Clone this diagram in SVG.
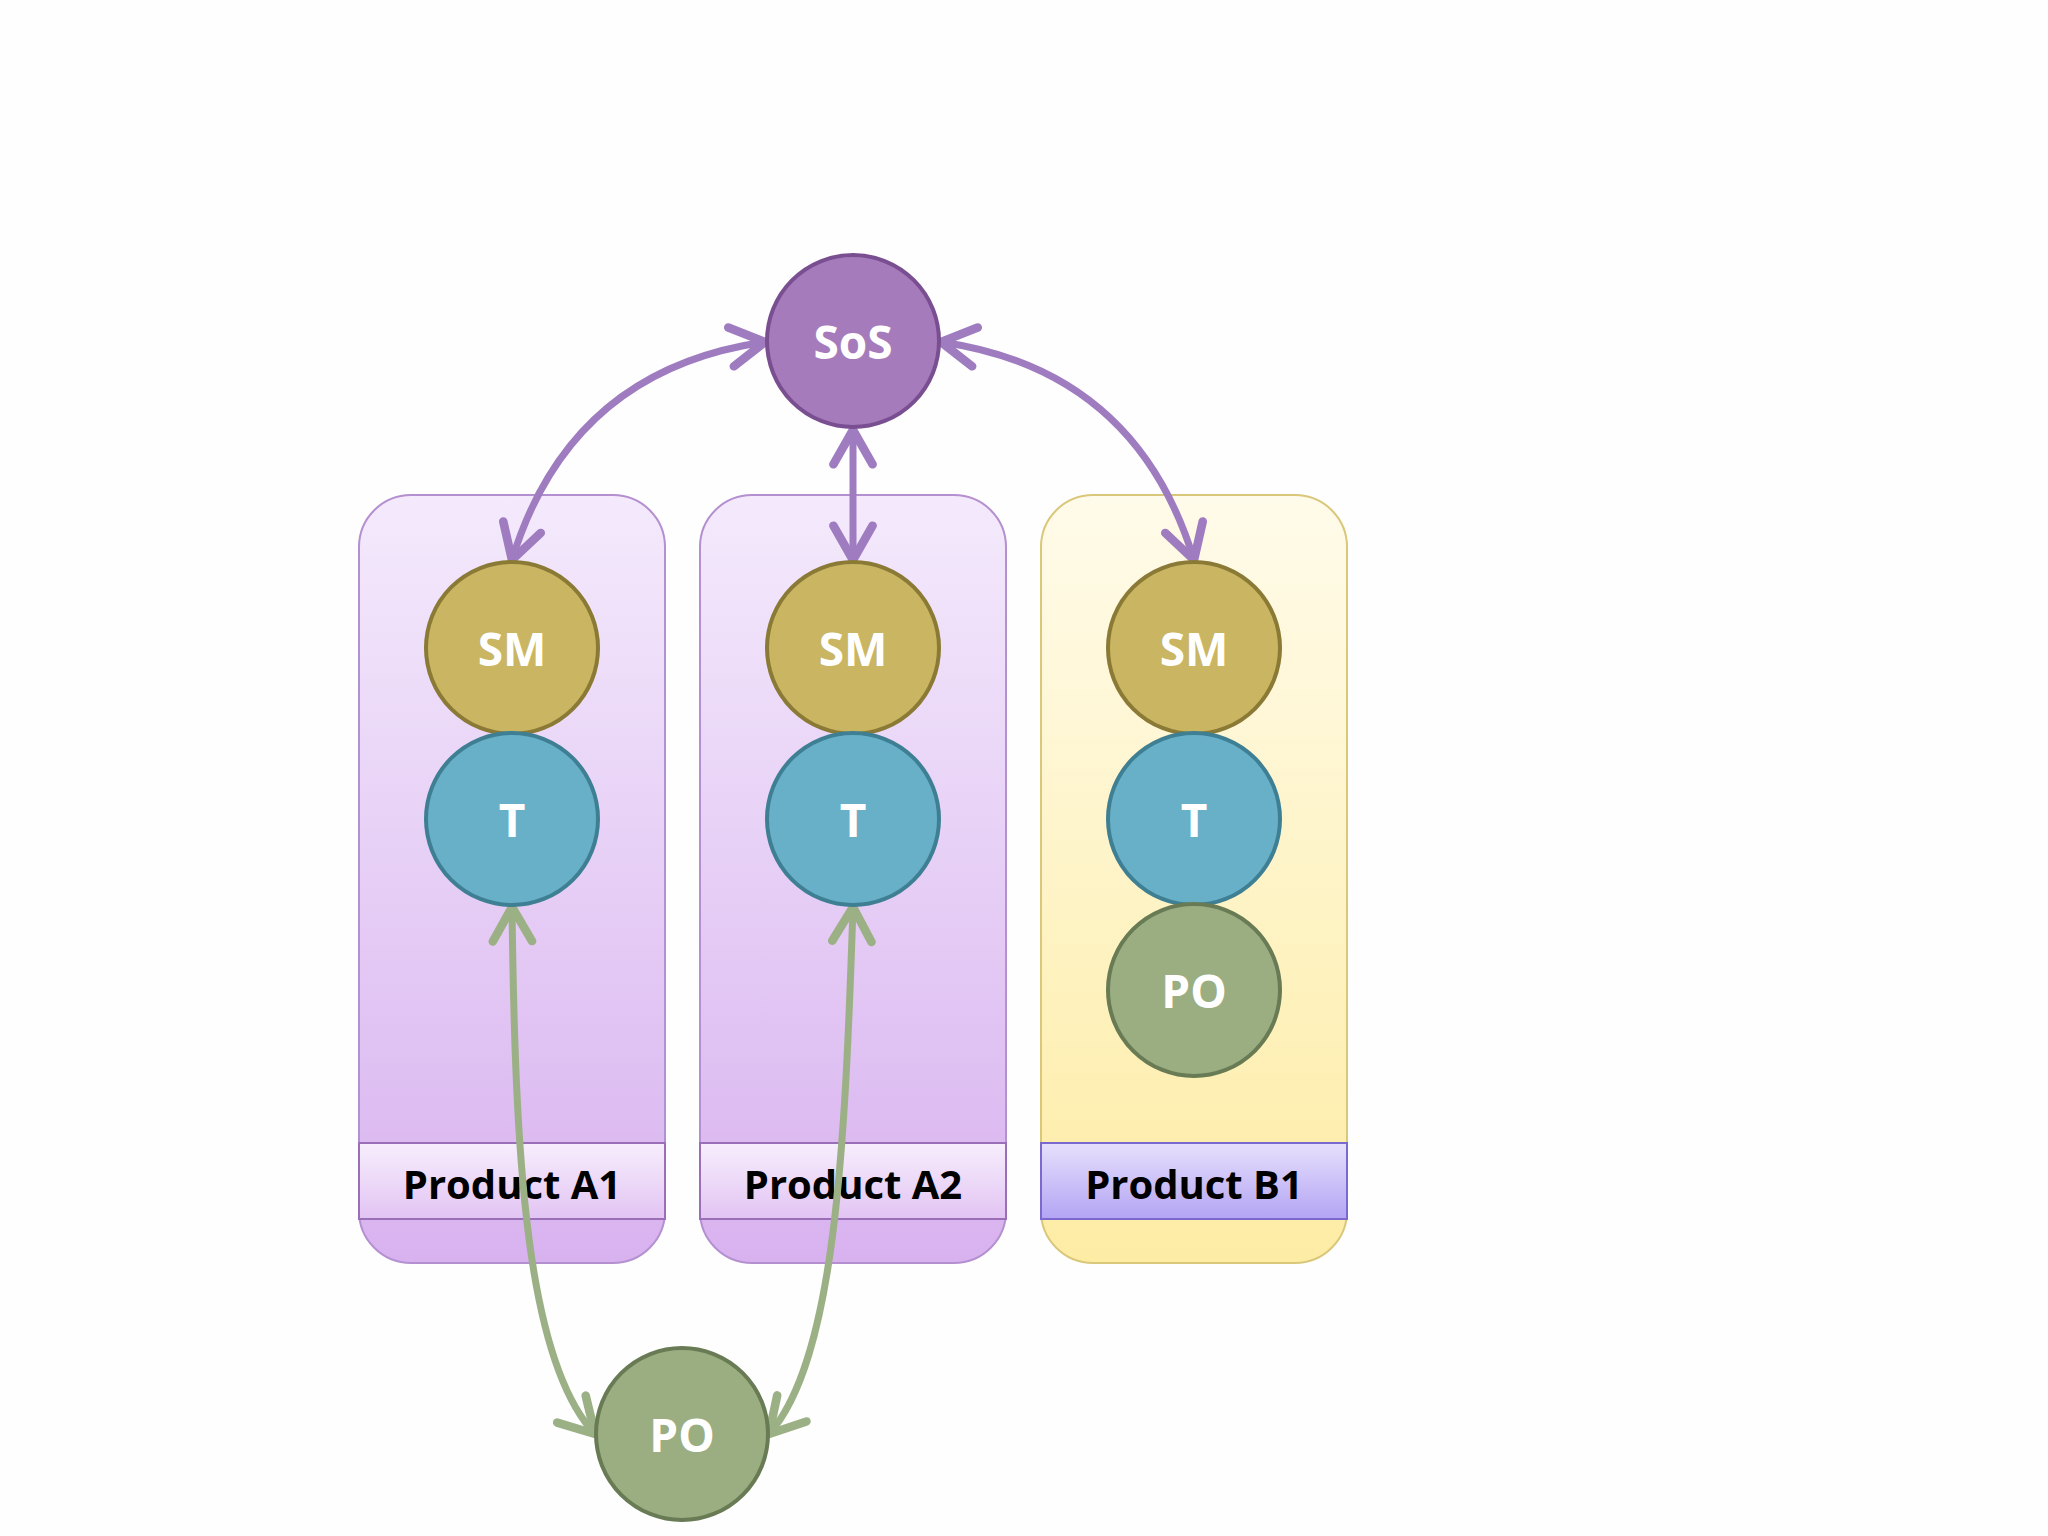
<svg xmlns="http://www.w3.org/2000/svg" width="2048" height="1536" viewBox="0 0 2048 1536">
<defs>
<linearGradient id="gP" x1="0" y1="0" x2="0" y2="1"><stop offset="0" stop-color="#f4eafc"/><stop offset="1" stop-color="#d8b2ef"/></linearGradient>
<linearGradient id="gY" x1="0" y1="0" x2="0" y2="1"><stop offset="0" stop-color="#fffbea"/><stop offset="1" stop-color="#fdeca4"/></linearGradient>
<linearGradient id="gLP" x1="0" y1="0" x2="0" y2="1"><stop offset="0" stop-color="#f7eefd"/><stop offset="1" stop-color="#e2c4f3"/></linearGradient>
<linearGradient id="gLB" x1="0" y1="0" x2="0" y2="1"><stop offset="0" stop-color="#e6e0fc"/><stop offset="1" stop-color="#b4a4f4"/></linearGradient>
<marker id="aP" viewBox="0 0 20 20" refX="17" refY="10" markerWidth="7" markerHeight="7" orient="auto-start-reverse" markerUnits="strokeWidth"><polyline points="3,2 17,10 3,18" fill="none" stroke="#9f7cc0" stroke-width="3.5" stroke-linecap="round" stroke-linejoin="round"/></marker>
<marker id="aG" viewBox="0 0 20 20" refX="17" refY="10" markerWidth="7" markerHeight="7" orient="auto-start-reverse" markerUnits="strokeWidth"><polyline points="3,2 17,10 3,18" fill="none" stroke="#9cb085" stroke-width="3.5" stroke-linecap="round" stroke-linejoin="round"/></marker>
</defs>
<style>
.t{font-family:"Open Sans","DejaVu Sans",sans-serif;font-weight:bold;fill:#fff;font-size:46px;text-anchor:middle;dominant-baseline:central}
.l{font-family:"Open Sans","DejaVu Sans",sans-serif;font-weight:bold;fill:#000;font-size:40px;text-anchor:middle;dominant-baseline:central}
.sos{fill:#a57bbb;stroke:#7a4f92;stroke-width:4}
.sm{fill:#c9b562;stroke:#8a7a35;stroke-width:4}
.tm{fill:#68b0c8;stroke:#3f7f94;stroke-width:4}
.po{fill:#9aae82;stroke:#687b54;stroke-width:4}
.bp{fill:url(#gP);stroke:#b590d0;stroke-width:2}
.by{fill:url(#gY);stroke:#d9c77a;stroke-width:2}
.cp{fill:none;stroke:#9f7cc0;stroke-width:7}
.cg{fill:none;stroke:#9cb085;stroke-width:7}
</style>
<rect width="2048" height="1536" fill="#fefefe"/>
<g id="boxA1"><rect class="bp" x="359" y="495" width="306" height="768" rx="52"/><rect x="359" y="1143" width="306" height="76" fill="url(#gLP)" stroke="#9a6fb8" stroke-width="2"/><text class="l" x="512" y="1183">Product A1</text></g>
<g id="boxA2"><rect class="bp" x="700" y="495" width="306" height="768" rx="52"/><rect x="700" y="1143" width="306" height="76" fill="url(#gLP)" stroke="#9a6fb8" stroke-width="2"/><text class="l" x="853" y="1183">Product A2</text></g>
<g id="boxB1"><rect class="by" x="1041" y="495" width="306" height="768" rx="52"/><rect x="1041" y="1143" width="306" height="76" fill="url(#gLB)" stroke="#7a6ad0" stroke-width="2"/><text class="l" x="1194" y="1183">Product B1</text></g>
<g id="connectors">
<path class="cp" d="M765,342 Q570,370 512,560" marker-start="url(#aP)" marker-end="url(#aP)"/>
<path class="cp" d="M941,342 Q1136,370 1194,560" marker-start="url(#aP)" marker-end="url(#aP)"/>
<path class="cp" d="M853,430 L853,560" marker-start="url(#aP)" marker-end="url(#aP)"/>
<path class="cg" d="M512,907 C515,1150 525,1360 595,1434" marker-start="url(#aG)" marker-end="url(#aG)"/>
<path class="cg" d="M853,907 C845,1150 835,1360 769,1434" marker-start="url(#aG)" marker-end="url(#aG)"/>
</g>
<g id="sos"><circle class="sos" cx="853" cy="341" r="86"/><text class="t" x="853" y="341">SoS</text></g>
<g id="smA1"><circle class="sm" cx="512" cy="648" r="86"/><text class="t" x="512" y="648">SM</text></g>
<g id="tA1"><circle class="tm" cx="512" cy="819" r="86"/><text class="t" x="512" y="819">T</text></g>
<g id="smA2"><circle class="sm" cx="853" cy="648" r="86"/><text class="t" x="853" y="648">SM</text></g>
<g id="tA2"><circle class="tm" cx="853" cy="819" r="86"/><text class="t" x="853" y="819">T</text></g>
<g id="smB1"><circle class="sm" cx="1194" cy="648" r="86"/><text class="t" x="1194" y="648">SM</text></g>
<g id="tB1"><circle class="tm" cx="1194" cy="819" r="86"/><text class="t" x="1194" y="819">T</text></g>
<g id="poB1"><circle class="po" cx="1194" cy="990" r="86"/><text class="t" x="1194" y="990">PO</text></g>
<g id="poA"><circle class="po" cx="682" cy="1434" r="86"/><text class="t" x="682" y="1434">PO</text></g>
</svg>
